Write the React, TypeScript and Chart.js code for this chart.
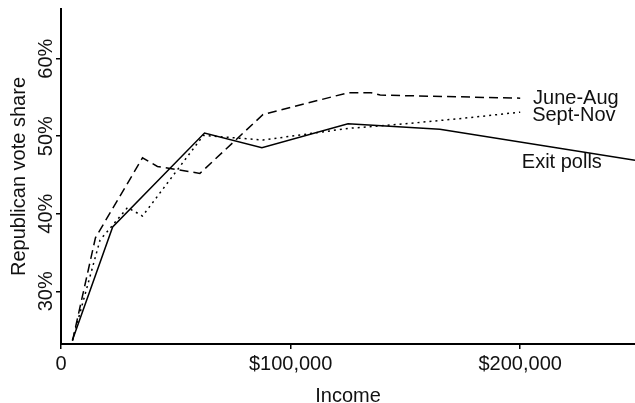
import React, { useEffect, useRef } from "react";
import { Chart, registerables } from "chart.js";

Chart.register(...registerables);

// ---- data ----
const incomeExit = [5000, 22500, 62500, 87500, 125000, 165000, 250000];
const shareExit = [23.7, 38.3, 50.4, 48.5, 51.6, 50.9, 46.9];

const incomeJuneAug = [5000, 15000, 35500, 42000, 60500, 88000, 125000, 135000, 139000, 200000];
const shareJuneAug = [23.6, 36.9, 47.2, 46.1, 45.2, 52.8, 55.6, 55.6, 55.3, 54.9];

const incomeSeptNov = [5000, 17000, 29000, 35500, 62000, 88000, 125000, 150000, 175000, 200000];
const shareSeptNov = [23.7, 36.6, 40.8, 39.7, 50.1, 49.5, 51.0, 51.6, 52.3, 53.1];

const seriesNames = ["June-Aug", "Sept-Nov", "Exit polls"];
const labelIncome = [205600, 205200, 200700];
const labelShare = [54.1, 51.95, 45.95];

const xTicks = [0, 100000, 200000];
const yTicks = [30, 40, 50, 60];

const FONT = "'Liberation Sans', Arial, sans-serif";

const toPoints = (xs: number[], ys: number[]) => xs.map((x, i) => ({ x, y: ys[i] }));

const seriesLabels = {
  id: "seriesLabels",
  afterDatasetsDraw(chart: any) {
    const { ctx, scales } = chart;
    const x = scales.x;
    const y = scales.y;
    ctx.save();
    ctx.font = `20px ${FONT}`;
    ctx.fillStyle = "#111";
    ctx.textAlign = "left";
    ctx.textBaseline = "alphabetic";
    seriesNames.forEach((name, i) => {
      ctx.fillText(name, x.getPixelForValue(labelIncome[i]), y.getPixelForValue(labelShare[i]));
    });
    ctx.restore();
  },
};

export default function App() {
  const ref = useRef<HTMLCanvasElement | null>(null);

  useEffect(() => {
    if (!ref.current) return;
    Chart.defaults.font.family = FONT;
    const chart = new Chart(ref.current, {
      type: "line",
      data: {
        datasets: [
          {
            label: seriesNames[0],
            data: toPoints(incomeJuneAug, shareJuneAug),
            borderColor: "#000",
            borderWidth: 1.5,
            borderDash: [9, 5],
            pointRadius: 0,
            tension: 0,
            fill: false,
          },
          {
            label: seriesNames[1],
            data: toPoints(incomeSeptNov, shareSeptNov),
            borderColor: "#000",
            borderWidth: 1.5,
            borderDash: [2, 4],
            pointRadius: 0,
            tension: 0,
            fill: false,
          },
          {
            label: seriesNames[2],
            data: toPoints(incomeExit, shareExit),
            borderColor: "#000",
            borderWidth: 1.5,
            pointRadius: 0,
            tension: 0,
            fill: false,
          },
        ],
      },
      options: {
        responsive: false,
        animation: false,
        layout: { padding: { top: 9, right: 0, left: 0, bottom: 0 } },
        plugins: {
          legend: { display: false },
          tooltip: { enabled: false },
          title: { display: false },
        },
        scales: {
          x: {
            type: "linear",
            min: 0,
            max: 250000,
            afterBuildTicks: (scale: any) => {
              scale.ticks = xTicks.map((v) => ({ value: v }));
            },
            afterFit: (scale: any) => {
              scale.height = 59;
            },
            border: { display: true, color: "#000", width: 2 },
            grid: {
              display: true,
              drawOnChartArea: false,
              drawTicks: true,
              tickLength: 5,
              color: "#000",
              lineWidth: 1.5,
            },
            ticks: {
              color: "#111",
              font: { size: 20, lineHeight: 1 },
              padding: 5,
              maxRotation: 0,
              minRotation: 0,
              autoSkip: false,
              callback: (v: any) => (v === 0 ? "0" : "$" + Number(v).toLocaleString("en-US")),
            },
            title: {
              display: true,
              text: "Income",
              color: "#111",
              font: { size: 20, lineHeight: 1 },
              padding: { top: 0, bottom: -3 },
            },
          },
          y: {
            type: "linear",
            min: 23.2,
            max: 66.4,
            afterBuildTicks: (scale: any) => {
              scale.ticks = yTicks.map((v) => ({ value: v }));
            },
            afterFit: (scale: any) => {
              scale.width = 61;
            },
            border: { display: true, color: "#000", width: 2 },
            grid: {
              display: true,
              drawOnChartArea: false,
              drawTicks: true,
              tickLength: 5,
              color: "#000",
              lineWidth: 1.5,
            },
            ticks: {
              color: "#111",
              font: { size: 20, lineHeight: 1 },
              padding: -10,
              minRotation: 90,
              maxRotation: 90,
              crossAlign: "center",
              autoSkip: false,
              callback: (v: any) => v + "%",
            },
            title: {
              display: true,
              text: "Republican vote share",
              color: "#111",
              font: { size: 20, lineHeight: 1 },
              padding: { top: 9, bottom: 0 },
            },
          },
        },
      },
      plugins: [seriesLabels],
    } as any);
    return () => chart.destroy();
  }, []);

  return (
    <div style={{ position: "absolute", left: 0, top: 0, width: 635, height: 403 }}>
      <canvas ref={ref} width={635} height={403} style={{ display: "block" }} />
    </div>
  );
}
